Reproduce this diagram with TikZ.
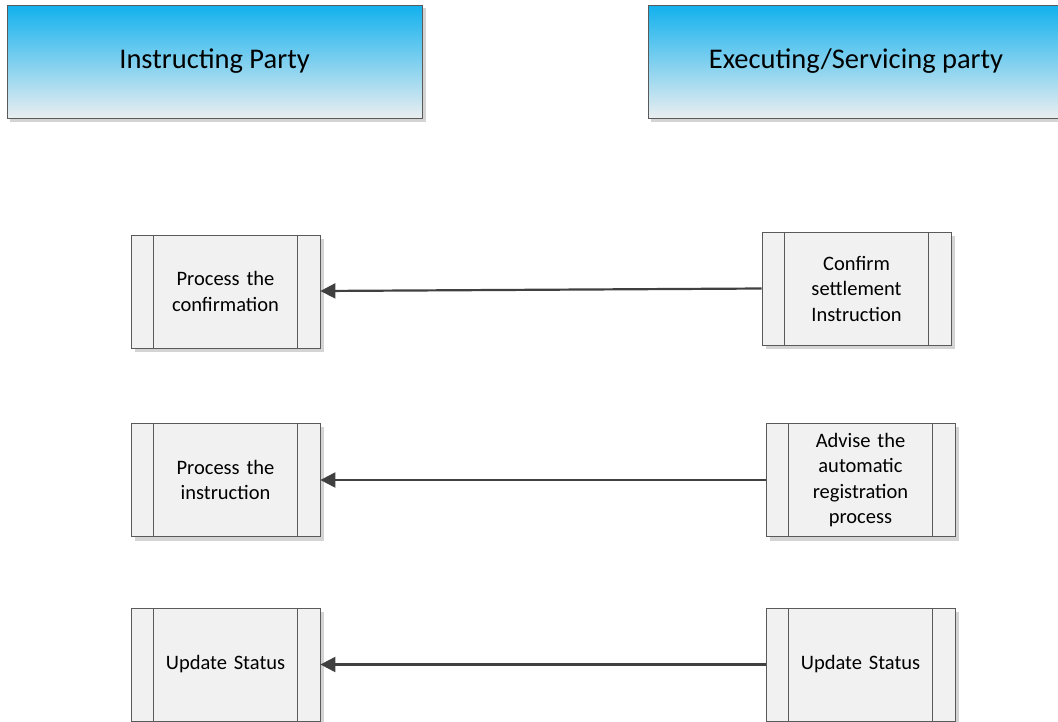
\documentclass[tikz,border=0pt]{standalone}
\usepackage{fontspec}
\setmainfont{Carlito}
\usetikzlibrary{arrows.meta}
\definecolor{hdrtop}{HTML}{12B1EE}
\definecolor{hdrbot}{HTML}{EAEEF0}
\definecolor{boxfill}{HTML}{F1F1F1}
\definecolor{boxline}{HTML}{5A5A5A}
\definecolor{shadowc}{HTML}{D4D4D4}
\definecolor{arrowc}{HTML}{404040}
\tikzset{
  header/.style={draw=boxline, line width=1pt, top color=hdrtop, bottom color=hdrbot,
    minimum width=415pt, minimum height=113pt, inner sep=0pt, font=\fontsize{28.5}{32}\selectfont},
  procbox/.style={draw=boxline, line width=0.8pt, fill=boxfill, minimum width=189pt,
    minimum height=113pt, inner sep=0pt, align=center, text width=140pt,
    font=\fontsize{20.5}{25.5}\selectfont},
  flow/.style={draw=arrowc, line width=2.2pt, -{Triangle[length=15pt,width=15pt]}}
}
\begin{document}
\begin{tikzpicture}[x=1pt,y=-1pt]
\useasboundingbox (0,0) rectangle (1058,721);
% shadows
\fill[shadowc] (10,8) rectangle (426,122);
\fill[shadowc] (651,8) rectangle (1070,122);
\foreach \a/\b/\c/\d in {131/235/320/348, 762/232/951/345, 131/423/320/537, 766/423/955/537, 131/608/320/721, 766/608/955/721}
  \fill[shadowc] (\a+4,\b+4) rectangle (\c+4,\d+4);
% headers
\node[header] (h1) at (214.5,61.5) {Instructing Party};
\node[header, minimum width=416pt] (h2) at (856,61.5) {Executing/Servicing party};
% process boxes
\node[procbox] (l1) at (225.5,291.5) {Process the\\confirmation};
\node[procbox] (r1) at (856.5,288.5) {Confirm\\settlement\\Instruction};
\node[procbox] (l2) at (225.5,480) {Process the\\instruction};
\node[procbox] (r2) at (860.5,480) {Advise the\\automatic\\registration\\process};
\node[procbox] (l3) at (225.5,664.5) {Update Status};
\node[procbox] (r3) at (860.5,664.5) {Update Status};
\foreach \n in {l1,r1,l2,r2,l3,r3} {
  \draw[boxline, line width=0.8pt] ([xshift=23pt]\n.north west) -- ([xshift=23pt]\n.south west);
  \draw[boxline, line width=0.8pt] ([xshift=-23pt]\n.north east) -- ([xshift=-23pt]\n.south east);
}
% connectors
\draw[flow] (r1.west) -- ([yshift=0.5pt]l1.east);
\draw[flow] (r2.west) -- (l2.east);
\draw[flow] (r3.west) -- (l3.east);
\end{tikzpicture}
\end{document}
